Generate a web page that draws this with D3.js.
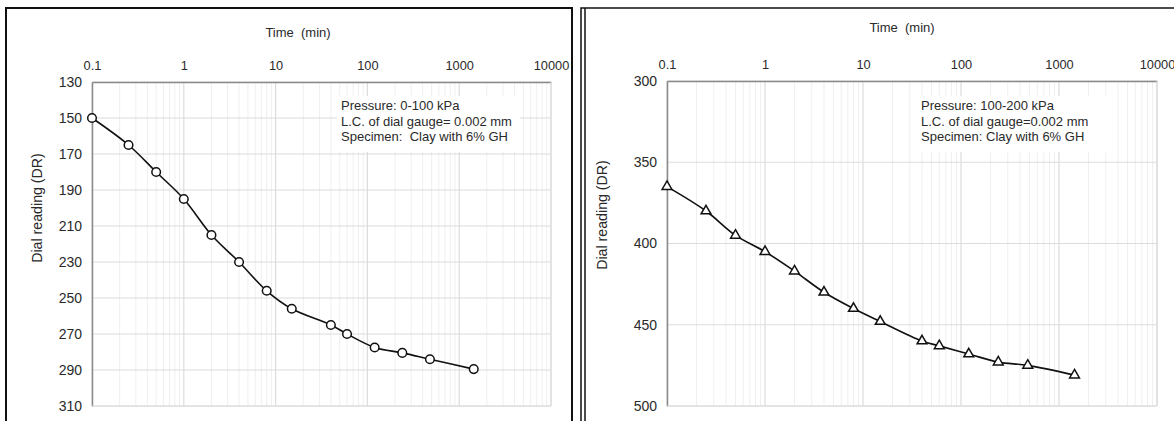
<!DOCTYPE html>
<html>
<head>
<meta charset="utf-8">
<script src="https://cdn.jsdelivr.net/npm/d3@7/dist/d3.min.js"></script>
<style>
  html, body { margin: 0; padding: 0; background: #fff; }
  svg { display: block; font-family: "Liberation Sans", Arial, sans-serif; }
  text { fill: #2a2a2a; }
</style>
</head>
<body>
<svg id="chart" width="1174" height="421"></svg>
<script>
// Elapsed time of each reading (min)
const timeMin = [0.1, 0.25, 0.5, 1, 2, 4, 8, 15, 40, 60, 120, 240, 480, 1440];

// Dial readings, load increment 0-100 kPa
const dialStage1 = [150, 165, 180, 195, 215, 230, 246, 256, 265, 270, 277.5, 280.5, 284, 289.5];
// Dial readings, load increment 100-200 kPa
const dialStage2 = [365, 380, 395, 405, 417, 430, 440, 448, 460, 463, 468, 473, 475, 481];

// Axis ticks
const timeTicks = [0.1, 1, 10, 100, 1000, 10000];
const timeTickLabels = ["0.1", "1", "10", "100", "1000", "10000"];
const dialTicks1 = [130, 150, 170, 190, 210, 230, 250, 270, 290, 310];
const dialTicks2 = [300, 350, 400, 450, 500];

// Note text for each panel
const notes1 = ["Pressure: 0-100 kPa", "L.C. of dial gauge= 0.002 mm", "Specimen:  Clay with 6% GH"];
const notes2 = ["Pressure: 100-200 kPa", "L.C. of dial gauge=0.002 mm", "Specimen: Clay with 6% GH"];

const svg = d3.select("#chart");

// Panel frames
svg.append("rect").attr("x", 6).attr("y", 8).attr("width", 566).attr("height", 430)
  .attr("fill", "none").attr("stroke", "#111").attr("stroke-width", 2);
svg.append("rect").attr("x", 581).attr("y", 8).attr("width", 620).attr("height", 430)
  .attr("fill", "none").attr("stroke", "#111").attr("stroke-width", 1.5);
svg.append("line").attr("x1", 585).attr("x2", 585).attr("y1", 8).attr("y2", 421)
  .attr("stroke", "#111").attr("stroke-width", 1.5);

function drawPanel(opt) {
  const { left, right, top, bottom, yDomain, yTicks, values, marker, notes, noteBox, titleX, titleY, yTitleX, yTitleY } = opt;
  const g = svg.append("g");

  const x = d3.scaleLog().domain([0.1, 10000]).range([left, right]);
  const y = d3.scaleLinear().domain(yDomain).range([top, bottom]);

  // Minor vertical grid (2..9 within each decade)
  const minor = [];
  for (let e = -1; e < 4; e++) {
    for (let k = 2; k <= 9; k++) minor.push(k * Math.pow(10, e));
  }
  g.append("g").selectAll("line").data(minor).join("line")
    .attr("x1", d => x(d)).attr("x2", d => x(d))
    .attr("y1", top).attr("y2", bottom)
    .attr("stroke", "#efefef").attr("stroke-width", 1);

  // Major vertical grid
  g.append("g").selectAll("line").data(timeTicks).join("line")
    .attr("x1", d => x(d)).attr("x2", d => x(d))
    .attr("y1", top).attr("y2", bottom)
    .attr("stroke", "#dcdcdc").attr("stroke-width", 1.2);

  // Horizontal grid
  g.append("g").selectAll("line").data(yTicks).join("line")
    .attr("x1", left).attr("x2", right)
    .attr("y1", d => y(d)).attr("y2", d => y(d))
    .attr("stroke", "#dcdcdc").attr("stroke-width", 1.2);

  // Note box (covers grid)
  g.append("rect")
    .attr("x", noteBox[0]).attr("y", noteBox[1])
    .attr("width", noteBox[2]).attr("height", noteBox[3])
    .attr("fill", "#fff");
  g.append("g").selectAll("text").data(notes).join("text")
    .attr("x", noteBox[0] + 4)
    .attr("y", (d, i) => noteBox[1] + 14 + i * 15.5)
    .attr("font-size", 13)
    .style("white-space", "pre")
    .text(d => d);

  // Axes (top: time, left: dial reading)
  const xAxis = d3.axisTop(x).tickValues(timeTicks)
    .tickFormat((d, i) => timeTickLabels[i]).tickSize(0).tickPadding(12);
  const xg = g.append("g").attr("transform", `translate(0,${top})`).call(xAxis);
  xg.select(".domain").attr("stroke", "#8a8a8a").attr("stroke-width", 1.5);
  xg.selectAll("text").attr("font-size", 12.8).attr("fill", "#2a2a2a")
    .attr("font-family", "Liberation Sans, Arial, sans-serif");

  const yAxis = d3.axisLeft(y).tickValues(yTicks).tickSize(0).tickPadding(10);
  const yg = g.append("g").attr("transform", `translate(${left},0)`).call(yAxis);
  yg.select(".domain").attr("stroke", "#8a8a8a").attr("stroke-width", 1.5);
  yg.selectAll("text").attr("font-size", 14).attr("fill", "#2a2a2a")
    .attr("font-family", "Liberation Sans, Arial, sans-serif");

  // Right and bottom plot edges
  g.append("line").attr("x1", right).attr("x2", right).attr("y1", top).attr("y2", bottom)
    .attr("stroke", "#dcdcdc").attr("stroke-width", 1.2);
  g.append("line").attr("x1", left).attr("x2", right).attr("y1", bottom).attr("y2", bottom)
    .attr("stroke", "#dcdcdc").attr("stroke-width", 1.2);

  // Axis titles
  g.append("text").attr("x", titleX).attr("y", titleY)
    .attr("text-anchor", "middle").attr("font-size", 13)
    .style("white-space", "pre").text("Time  (min)");
  g.append("text")
    .attr("transform", `translate(${yTitleX},${yTitleY}) rotate(-90)`)
    .attr("text-anchor", "middle").attr("font-size", 14.2)
    .text("Dial reading (DR)");

  // Curve
  const pts = timeMin.map((t, i) => [x(t), y(values[i])]);
  g.append("path")
    .attr("d", d3.line().curve(d3.curveCatmullRom.alpha(0.5))(pts))
    .attr("fill", "none").attr("stroke", "#111").attr("stroke-width", 1.6);

  // Markers
  if (marker === "circle") {
    g.append("g").selectAll("circle").data(pts).join("circle")
      .attr("cx", d => d[0]).attr("cy", d => d[1]).attr("r", 4.3)
      .attr("fill", "#fff").attr("stroke", "#111").attr("stroke-width", 1.5);
  } else {
    const tri = d3.symbol().type(d3.symbolTriangle).size(42);
    g.append("g").selectAll("path.m").data(pts).join("path")
      .attr("class", "m")
      .attr("transform", d => `translate(${d[0]},${d[1]})`)
      .attr("d", tri())
      .attr("fill", "#fff").attr("stroke", "#111").attr("stroke-width", 1.5);
  }
}

drawPanel({
  left: 92, right: 551, top: 82, bottom: 406,
  yDomain: [130, 310], yTicks: dialTicks1, values: dialStage1,
  marker: "circle", notes: notes1, noteBox: [337, 96, 183, 56],
  titleX: 298, titleY: 37, yTitleX: 42, yTitleY: 208
});

drawPanel({
  left: 667, right: 1157, top: 81, bottom: 406,
  yDomain: [300, 500], yTicks: dialTicks2, values: dialStage2,
  marker: "triangle", notes: notes2, noteBox: [917, 96, 190, 56],
  titleX: 902, titleY: 32, yTitleX: 607, yTitleY: 215
});
</script>
</body>
</html>
